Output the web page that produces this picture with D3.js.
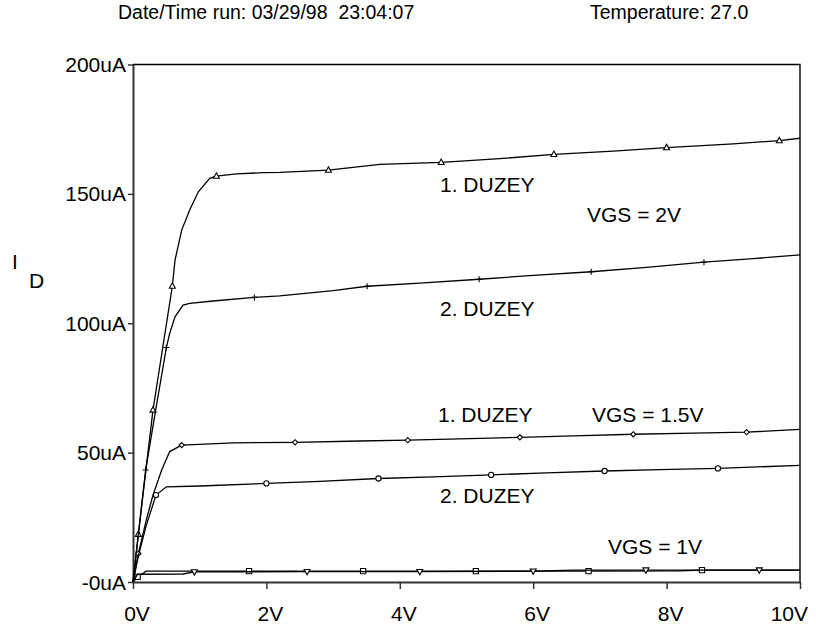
<!DOCTYPE html>
<html>
<head>
<meta charset="utf-8">
<script src="https://cdn.jsdelivr.net/npm/d3@7"></script>
<style>
  body { margin: 0; background: #fff; }
  text { font-family: "Liberation Sans", Arial, sans-serif; font-size: 21px; fill: #000; white-space: pre; }
  text.head { font-size: 19.5px; }
</style>
</head>
<body>
<script>
// x values in volts, y values in uA
const xTicks = [0, 2, 4, 6, 8, 10];
const xTickLabels = ['0V', '2V', '4V', '6V', '8V', '10V'];
const yTicks = [0, 50, 100, 150, 200];
const yTickLabels = ['-0uA', '50uA', '100uA', '150uA', '200uA'];

// VGS = 2V, device 1 (triangles)
const vgs2d1 = [[0,0],[0.08,18.5],[0.30,66.5],[0.59,114.4],[0.63,124.4],[0.73,136],[0.85,143.8],
  [0.98,150.8],[1.15,156],[1.25,156.9],[1.55,157.7],[1.95,158.2],[2.2,158.3],[2.93,159.2],
  [3.7,161.4],[4.62,162.2],[5.5,163.6],[6.31,165.3],[7.2,166.5],[8.0,167.9],[9.0,169.3],[9.69,170.6],[10,171.5]];
const vgs2d1Marks = [[0.08,18.5],[0.30,66.5],[0.59,114.4],[1.25,156.9],[2.93,159.2],[4.62,162.2],[6.31,165.3],[8.0,167.9],[9.69,170.6]];

// VGS = 2V, device 2 (plus)
const vgs2d2 = [[0,0],[0.19,43.3],[0.35,68],[0.50,90.6],[0.55,96.1],[0.63,102.5],[0.75,107],[0.85,107.7],
  [1.2,108.6],[1.82,110],[2.2,110.6],[3.0,112.6],[3.51,114.3],[4.3,115.5],[5.19,117],[6.0,118.5],
  [6.87,119.9],[7.7,121.6],[8.56,123.6],[9.3,125],[10,126.4]];
const vgs2d2Marks = [[0.19,43.3],[0.50,90.6],[1.82,110],[3.51,114.3],[5.19,117],[6.87,119.9],[8.56,123.6]];

// VGS = 1.5V, device 1 (diamonds)
const vgs15d1 = [[0,0],[0.08,11],[0.2,24],[0.3,33.6],[0.43,43.3],[0.55,50.4],[0.73,52.9],[1.5,53.8],
  [2.43,54],[3.4,54.5],[4.12,54.8],[4.9,55.3],[5.8,55.9],[6.6,56.5],[7.5,57.1],[8.4,57.5],[9.2,57.9],[10,59]];
const vgs15d1Marks = [[0.08,11],[0.73,52.9],[2.43,54],[4.12,54.8],[5.8,55.9],[7.5,57.1],[9.2,57.9]];

// VGS = 1.5V, device 2 (circles)
const vgs15d2 = [[0,0],[0.08,10],[0.2,22],[0.345,33.6],[0.5,36.8],[1.0,37.1],[2.0,38.1],[2.8,38.9],
  [3.68,40],[4.5,40.6],[5.37,41.4],[6.2,42.2],[7.07,42.9],[7.9,43.4],[8.77,43.9],[10,45.1]];
const vgs15d2Marks = [[0.345,33.6],[2.0,38.1],[3.68,40],[5.37,41.4],[7.07,42.9],[8.77,43.9]];

// VGS = 1V, device 1 (squares)
const vgs1d1 = [[0,0],[0.07,2],[0.2,4.2],[1.0,4.2],[1.74,4.2],[3.45,4.2],[5.14,4.2],[6.83,4.2],[8.2,4.3],[8.53,4.6],[10,4.6]];
const vgs1d1Marks = [[0.07,2],[1.74,4.2],[3.45,4.2],[5.14,4.2],[6.83,4.2],[8.53,4.6]];

// VGS = 1V, device 2 (inverted triangles)
const vgs1d2 = [[0,0],[0.07,3.0],[0.75,3.1],[0.92,3.9],[2.61,4.0],[3.0,4.0],[4.30,4.0],[6.0,4.2],[6.6,4.6],[7.69,4.6],[9.39,4.6],[10,4.6]];
const vgs1d2Marks = [[0.92,3.9],[2.61,4.0],[4.30,4.0],[6.0,4.2],[7.69,4.6],[9.39,4.6]];

const series = [
  {pts: vgs2d1, marks: vgs2d1Marks, sym: 'triUp'},
  {pts: vgs2d2, marks: vgs2d2Marks, sym: 'plus'},
  {pts: vgs15d1, marks: vgs15d1Marks, sym: 'diamond'},
  {pts: vgs15d2, marks: vgs15d2Marks, sym: 'circle'},
  {pts: vgs1d1, marks: vgs1d1Marks, sym: 'square'},
  {pts: vgs1d2, marks: vgs1d2Marks, sym: 'triDown'},
];

const curveLabels = [
  ['1. DUZEY', 440, 192], ['VGS = 2V', 587, 222], ['2. DUZEY', 440, 316],
  ['1. DUZEY', 438, 422], ['VGS = 1.5V', 592, 422], ['2. DUZEY', 440, 503],
  ['VGS = 1V', 608, 554],
];

function main() {
  const W = 816, H = 631;
  const left = 133, right = 800, top = 64.5, bottom = 582;

  const svg = d3.select('body').append('svg')
    .attr('width', W).attr('height', H);

  const x = d3.scaleLinear().domain([0, 10]).range([left, right]);
  const y = d3.scaleLinear().domain([0, 200]).range([bottom, top]);

  // header
  svg.append('text').attr('class', 'head').attr('x', 118).attr('y', 18.5).text('Date/Time run: 03/29/98  23:04:07');
  svg.append('text').attr('class', 'head').attr('x', 590).attr('y', 18.5).text('Temperature: 27.0');

  // frame top/right
  svg.append('path')
    .attr('d', `M${left},${top}H${right}V${bottom}`)
    .attr('fill', 'none').attr('stroke', '#000').attr('stroke-width', 1.4);

  // x axis
  const xAxis = svg.append('g').attr('transform', `translate(0,${bottom})`)
    .call(d3.axisBottom(x).tickValues(xTicks).tickSize(7).tickSizeOuter(0).tickFormat(''));
  xAxis.select('.domain').attr('stroke', '#333').attr('stroke-width', 2);
  xAxis.selectAll('.tick line').attr('stroke', '#333').attr('stroke-width', 1.5);
  xTicks.forEach((t, i) => {
    const last = i === xTicks.length - 1;
    svg.append('text')
      .attr('x', last ? 808 : x(t) + 4)
      .attr('y', 621)
      .attr('text-anchor', last ? 'end' : 'middle')
      .text(xTickLabels[i]);
  });

  // y axis
  const yAxis = svg.append('g').attr('transform', `translate(${left},0)`)
    .call(d3.axisLeft(y).tickValues(yTicks).tickSize(5).tickSizeOuter(0).tickFormat(''));
  yAxis.select('.domain').attr('stroke', '#333').attr('stroke-width', 2);
  yAxis.selectAll('.tick line').attr('stroke', '#333').attr('stroke-width', 1.5);
  yTicks.forEach((t, i) => {
    svg.append('text')
      .attr('x', 126).attr('y', y(t) + 7.5)
      .attr('text-anchor', 'end')
      .text(yTickLabels[i]);
  });

  // axis title I subscript D
  svg.append('text').attr('x', 12).attr('y', 269).text('I');
  svg.append('text').attr('x', 29).attr('y', 288).text('D');

  const line = d3.line().x(d => x(d[0])).y(d => y(d[1]));

  const sym = {
    triUp: 'M0,-3.2L3,2.2L-3,2.2Z',
    triDown: 'M0,3.2L3,-2.2L-3,-2.2Z',
    diamond: 'M0,-2.6L2.6,0L0,2.6L-2.6,0Z',
    square: 'M-2.6,-2.6H2.6V2.6H-2.6Z',
    plus: 'M-3,0H3M0,-3V3',
  };

  series.forEach(s => {
    svg.append('path').datum(s.pts)
      .attr('d', line)
      .attr('fill', 'none').attr('stroke', '#000').attr('stroke-width', 1.3);
    const g = svg.append('g');
    s.marks.forEach(m => {
      const px = x(m[0]), py = y(m[1]);
      if (s.sym === 'circle') {
        g.append('circle').attr('cx', px).attr('cy', py).attr('r', 2.6)
          .attr('fill', '#fff').attr('stroke', '#000').attr('stroke-width', 1.1);
      } else {
        g.append('path').attr('d', sym[s.sym])
          .attr('transform', `translate(${px},${py})`)
          .attr('fill', s.sym === 'plus' ? 'none' : '#fff')
          .attr('stroke', '#000').attr('stroke-width', 1.1);
      }
    });
  });

  curveLabels.forEach(l => {
    svg.append('text').attr('x', l[1]).attr('y', l[2]).text(l[0]);
  });
}

main();
</script>
</body>
</html>
